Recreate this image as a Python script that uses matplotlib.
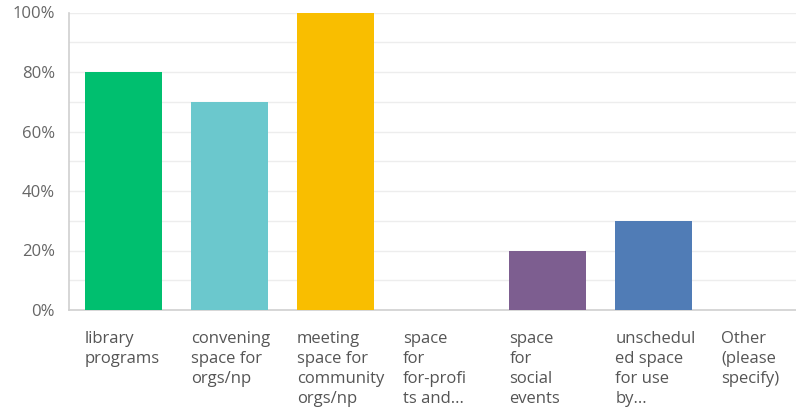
import numpy as np
import matplotlib.pyplot as plt
from matplotlib import transforms

categories = [
    "library\nprograms",
    "convening\nspace for\norgs/np",
    "meeting\nspace for\ncommunity\norgs/np",
    "space\nfor\nfor-profi\nts and...",
    "space\nfor\nsocial\nevents",
    "unschedul\ned space\nfor use\nby...",
    "Other\n(please\nspecify)",
]
values = [80, 70, 100, 0, 20, 30, 0]
colors = ["#00BF6F", "#6BC8CD", "#F9BE00", "#FFFFFF", "#7D5E90", "#507CB6", "#FFFFFF"]
yticks = [0, 20, 40, 60, 80, 100]

plt.rcParams['font.family'] = ['Open Sans', 'DejaVu Sans']

fig = plt.figure(figsize=(7.96, 4.08), dpi=100)
ax = fig.add_axes([69/796, 1 - 310/408, 1 - 69/796, (310 - 12.5)/408])

x = np.arange(len(categories))
width = 0.727
ax.bar(x, values, width=width, color=colors, zorder=3)

ax.set_xlim(-0.514, 6.34)
ax.set_ylim(0, 100)

# gridlines every 10%
for g in range(10, 101, 10):
    ax.axhline(g, color="#EDEDED", lw=1, zorder=1)

ax.set_yticks(yticks)
ax.set_yticklabels([f"{t}%" for t in yticks], color="#666666", fontsize=12)
offset = transforms.ScaledTranslation(0, -9/100, fig.dpi_scale_trans)
for lab in ax.get_yticklabels():
    lab.set_transform(lab.get_transform() + offset)
ax.tick_params(axis='y', length=0, pad=10)
ax.set_xticks([])

for side in ["top", "right"]:
    ax.spines[side].set_visible(False)
ax.spines["left"].set_color("#D0D0D0")
ax.spines["bottom"].set_color("#D0D0D0")
ax.spines["left"].set_linewidth(1.2)
ax.spines["bottom"].set_linewidth(1.2)

# category labels, left-aligned under each bar
trans = transforms.blended_transform_factory(ax.transData, ax.transAxes)
for xi, lab in zip(x, categories):
    ax.text(xi - width/2, -0.07, lab, transform=trans, ha="left", va="top",
            fontsize=12, color="#555555", linespacing=1.33, clip_on=False)

fig.savefig("out.png", dpi=100)
